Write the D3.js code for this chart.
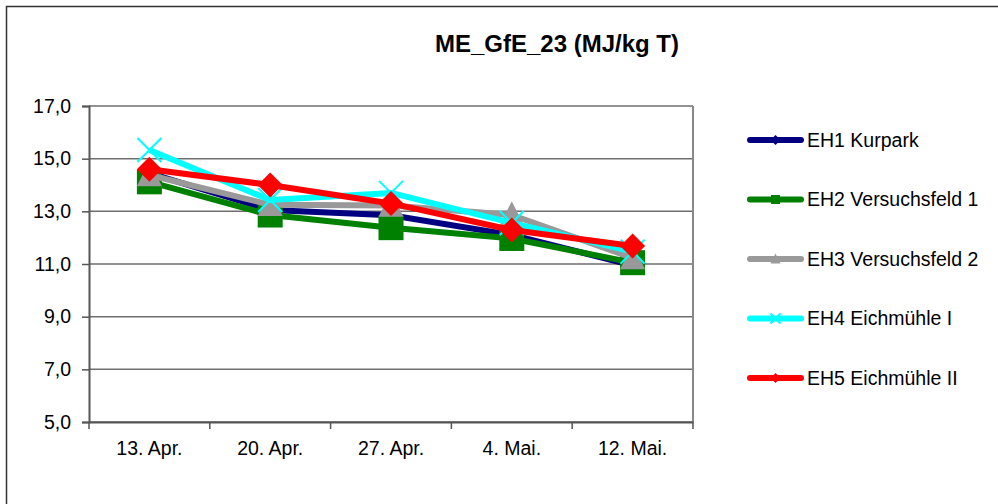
<!DOCTYPE html>
<html lang="de">
<head>
    <meta charset="UTF-8">
    <title>ME_GfE_23 (MJ/kg T)</title>
    <script src="https://d3js.org/d3.v7.min.js"></script>
    <style>
        body { margin: 0; background: #fff; }
        svg { display: block; font-family: "Liberation Sans", Arial, sans-serif; }
    </style>
</head>
<body>
    <div id="chart"></div>

    <script>
        // Daten
        const dates = ["13. Apr.", "20. Apr.", "27. Apr.", "4. Mai.", "12. Mai."];
        const yTicks = [5, 7, 9, 11, 13, 15, 17];

        const eh1 = [14.45, 13.05, 12.85, 12.1, 10.95];
        const eh2 = [14.12, 12.86, 12.38, 11.97, 11.05];
        const eh3 = [14.38, 13.25, 13.22, 12.86, 11.23];
        const eh4 = [15.33, 13.43, 13.7, 12.56, 11.47];
        const eh5 = [14.6, 14.0, 13.3, 12.29, 11.68];

        const series = [
            { name: "EH1 Kurpark", values: eh1, color: "#000080", marker: "diamond" },
            { name: "EH2 Versuchsfeld 1", values: eh2, color: "#008000", marker: "square" },
            { name: "EH3 Versuchsfeld 2", values: eh3, color: "#999999", marker: "triangle" },
            { name: "EH4 Eichmühle I", values: eh4, color: "#00ffff", marker: "cross" },
            { name: "EH5 Eichmühle II", values: eh5, color: "#ff0000", marker: "diamond" }
        ];

        const width = 998, height = 504;
        const plot = { left: 89, right: 693, top: 106, bottom: 422 };

        const svg = d3.select("#chart").append("svg")
            .attr("width", width)
            .attr("height", height);

        // Rahmen
        svg.append("rect")
            .attr("x", 6.5).attr("y", 6.5)
            .attr("width", 1000).attr("height", 520)
            .attr("fill", "none")
            .attr("stroke", "#333")
            .attr("stroke-width", 1.5);

        svg.append("text")
            .attr("x", 557).attr("y", 52)
            .attr("text-anchor", "middle")
            .style("font-size", "24px")
            .style("font-weight", "bold")
            .text("ME_GfE_23 (MJ/kg T)");

        const x = d3.scaleBand()
            .domain(dates)
            .range([plot.left, plot.right]);

        const y = d3.scaleLinear()
            .domain([5, 17])
            .range([plot.bottom, plot.top]);

        // Gitternetz
        svg.append("g")
            .selectAll("line")
            .data(yTicks)
            .join("line")
            .attr("x1", plot.left).attr("x2", plot.right)
            .attr("y1", d => y(d)).attr("y2", d => y(d))
            .attr("stroke", "#6e6e6e")
            .attr("stroke-width", 1.5);

        svg.append("line")
            .attr("x1", plot.right).attr("x2", plot.right)
            .attr("y1", plot.top).attr("y2", plot.bottom)
            .attr("stroke", "#888")
            .attr("stroke-width", 2);

        // Achsen
        const yAxis = svg.append("g")
            .attr("transform", `translate(${plot.left},0)`)
            .call(d3.axisLeft(y).tickValues(yTicks).tickSize(7).tickPadding(11)
                .tickFormat(d => d3.format(".1f")(d).replace(".", ",")));

        const xAxis = svg.append("g")
            .attr("transform", `translate(0,${plot.bottom})`)
            .call(d3.axisBottom(x).tickSize(0).tickPadding(19));

        // Teilstriche zwischen den Kategorien
        xAxis.selectAll(".sep")
            .data(d3.range(dates.length + 1))
            .join("line")
            .attr("class", "sep")
            .attr("x1", i => plot.left + i * x.step())
            .attr("x2", i => plot.left + i * x.step())
            .attr("y1", 0).attr("y2", 7)
            .attr("stroke", "#555")
            .attr("stroke-width", 1.5);

        [yAxis, xAxis].forEach(a => {
            a.select(".domain").attr("stroke", "#555").attr("stroke-width", 2);
            a.selectAll(".tick line").attr("stroke", "#555").attr("stroke-width", 1.5);
            a.selectAll("text")
                .style("font-family", "'Liberation Sans', Arial, sans-serif")
                .style("font-size", "19.5px")
                .attr("fill", "#000");
        });

        function drawMarker(g, type, cx, cy, s, color) {
            if (type === "diamond") {
                g.append("path")
                    .attr("d", `M${cx},${cy - s} L${cx + s},${cy} L${cx},${cy + s} L${cx - s},${cy} Z`)
                    .attr("fill", color);
            } else if (type === "square") {
                g.append("rect")
                    .attr("x", cx - s).attr("y", cy - s)
                    .attr("width", 2 * s).attr("height", 2 * s)
                    .attr("fill", color);
            } else if (type === "triangle") {
                g.append("path")
                    .attr("d", `M${cx},${cy - s * 1.1} L${cx + s},${cy + s * 0.9} L${cx - s},${cy + s * 0.9} Z`)
                    .attr("fill", color);
            } else if (type === "cross") {
                g.append("path")
                    .attr("d", `M${cx - s},${cy - s} L${cx + s},${cy + s} M${cx + s},${cy - s} L${cx - s},${cy + s}`)
                    .attr("stroke", color)
                    .attr("stroke-width", 2)
                    .attr("fill", "none");
            }
        }

        const markerSize = { diamond: 12.5, square: 12.5, triangle: 12.5, cross: 12 };

        const line = d3.line()
            .x((d, i) => x(dates[i]) + x.bandwidth() / 2)
            .y(d => y(d));

        series.forEach((s, si) => {
            const g = svg.append("g");
            g.append("path")
                .datum(s.values)
                .attr("d", line)
                .attr("fill", "none")
                .attr("stroke", s.color)
                .attr("stroke-width", 6)
                .attr("stroke-linejoin", "round");
            const size = si === 0 ? 9 : markerSize[s.marker];
            s.values.forEach((v, i) => {
                drawMarker(g, s.marker, x(dates[i]) + x.bandwidth() / 2, y(v), size, s.color);
            });
        });

        // Legende
        const legend = svg.append("g");
        series.forEach((s, i) => {
            const ly = 140 + i * 59.5;
            const item = legend.append("g");
            item.append("line")
                .attr("x1", 750).attr("x2", 801)
                .attr("y1", ly).attr("y2", ly)
                .attr("stroke", s.color)
                .attr("stroke-width", 6)
                .attr("stroke-linecap", "round");
            drawMarker(item, s.marker, 775.5, ly, s.marker === "square" ? 4.5 : 5, s.color);
            item.append("text")
                .attr("x", 807)
                .attr("y", ly)
                .attr("dy", "0.35em")
                .style("font-size", "19.5px")
                .text(s.name);
        });
    </script>
</body>
</html>
